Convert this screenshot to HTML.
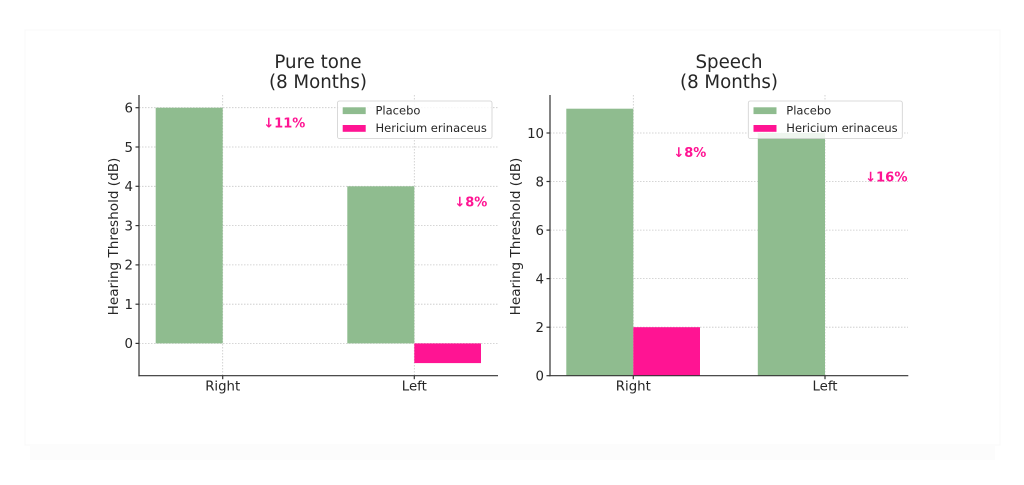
<!DOCTYPE html>
<html><head><meta charset="utf-8"><style>
html,body{margin:0;padding:0;background:#fff;}
svg{display:block;}
text{font-family:"DejaVu Sans","Liberation Sans",sans-serif;fill:#262626;}
</style></head><body>
<svg width="1024" height="485" viewBox="0 0 1024 485" xmlns="http://www.w3.org/2000/svg">
<rect x="0" y="0" width="1024" height="485" fill="#fff"/>
<rect x="30" y="446" width="965" height="14" fill="#fcfcfc"/>
<rect x="25" y="30" width="975" height="415" fill="#fff" stroke="#f8f8f8" stroke-width="1"/>

<!-- LEFT CHART -->
<g>
<text x="318" y="68" font-size="18.2" text-anchor="middle">Pure tone</text>
<text x="318" y="88" font-size="18.2" text-anchor="middle">(8 Months)</text>
<!-- grid -->
<g stroke="#c8c8c8" stroke-width="0.8" stroke-dasharray="1.5,1.5" fill="none">
<line x1="139" y1="107.7" x2="498" y2="107.7"/>
<line x1="139" y1="147" x2="498" y2="147"/>
<line x1="139" y1="186.3" x2="498" y2="186.3"/>
<line x1="139" y1="225.6" x2="498" y2="225.6"/>
<line x1="139" y1="264.9" x2="498" y2="264.9"/>
<line x1="139" y1="304.2" x2="498" y2="304.2"/>
<line x1="139" y1="343.4" x2="498" y2="343.4"/>
<line x1="222.7" y1="95" x2="222.7" y2="376"/>
<line x1="414.3" y1="95" x2="414.3" y2="376"/>
</g>
<!-- bars -->
<rect x="155.7" y="107.7" width="67" height="235.7" fill="#8fbc8f"/>
<rect x="347.3" y="186.3" width="67" height="157.1" fill="#8fbc8f"/>
<rect x="414.3" y="343.4" width="66.7" height="19.7" fill="#ff1493"/>
<!-- spines -->
<g stroke="#333" stroke-width="1.2">
<line x1="139" y1="95" x2="139" y2="376.3"/>
<line x1="138.4" y1="375.7" x2="498" y2="375.7"/>
<line x1="135.5" y1="107.7" x2="139" y2="107.7"/>
<line x1="135.5" y1="147" x2="139" y2="147"/>
<line x1="135.5" y1="186.3" x2="139" y2="186.3"/>
<line x1="135.5" y1="225.6" x2="139" y2="225.6"/>
<line x1="135.5" y1="264.9" x2="139" y2="264.9"/>
<line x1="135.5" y1="304.2" x2="139" y2="304.2"/>
<line x1="135.5" y1="343.4" x2="139" y2="343.4"/>
<line x1="222.7" y1="375.7" x2="222.7" y2="379.2"/>
<line x1="414.3" y1="375.7" x2="414.3" y2="379.2"/>
</g>
<g font-size="13.3" text-anchor="end">
<text x="133" y="112.5">6</text>
<text x="133" y="151.8">5</text>
<text x="133" y="191.1">4</text>
<text x="133" y="230.4">3</text>
<text x="133" y="269.7">2</text>
<text x="133" y="309">1</text>
<text x="133" y="348.2">0</text>
</g>
<g font-size="13.3" text-anchor="middle">
<text x="222.7" y="390.5">Right</text>
<text x="414.3" y="390.5">Left</text>
</g>
<text transform="translate(118,236.5) rotate(-90)" font-size="13.6" text-anchor="middle">Hearing Threshold (dB)</text>
<!-- annotations -->
<text x="263.3" y="127.5" font-size="13.3" font-weight="bold" style="fill:#ff1493" textLength="42" lengthAdjust="spacingAndGlyphs">↓11%</text>
<text x="454.3" y="206.5" font-size="13.3" font-weight="bold" style="fill:#ff1493" textLength="33" lengthAdjust="spacingAndGlyphs">↓8%</text>
<!-- legend -->
<rect x="337.5" y="101" width="154.5" height="37.5" rx="2" fill="#fff" fill-opacity="0.85" stroke="#d0d0d0" stroke-width="0.8"/>
<rect x="342.7" y="107.3" width="23" height="6.8" fill="#8fbc8f"/>
<rect x="342.7" y="125" width="23" height="6.8" fill="#ff1493"/>
<text x="375.5" y="114.5" font-size="11.5">Placebo</text>
<text x="375.5" y="131.8" font-size="11.5">Hericium erinaceus</text>
</g>

<!-- RIGHT CHART -->
<g>
<text x="729" y="68" font-size="18.2" text-anchor="middle">Speech</text>
<text x="729" y="88" font-size="18.2" text-anchor="middle">(8 Months)</text>
<g stroke="#c8c8c8" stroke-width="0.8" stroke-dasharray="1.5,1.5" fill="none">
<line x1="550" y1="133" x2="908" y2="133"/>
<line x1="550" y1="181.5" x2="908" y2="181.5"/>
<line x1="550" y1="230.1" x2="908" y2="230.1"/>
<line x1="550" y1="278.6" x2="908" y2="278.6"/>
<line x1="550" y1="327.2" x2="908" y2="327.2"/>
<line x1="633.3" y1="95" x2="633.3" y2="376"/>
<line x1="825" y1="95" x2="825" y2="376"/>
</g>
<rect x="566.3" y="108.7" width="67" height="267" fill="#8fbc8f"/>
<rect x="633.3" y="327.2" width="66.7" height="48.5" fill="#ff1493"/>
<rect x="757.8" y="133" width="67.2" height="242.7" fill="#8fbc8f"/>
<g stroke="#333" stroke-width="1.2">
<line x1="550" y1="95" x2="550" y2="376.3"/>
<line x1="549.4" y1="375.7" x2="908.3" y2="375.7"/>
<line x1="546.5" y1="133" x2="550" y2="133"/>
<line x1="546.5" y1="181.5" x2="550" y2="181.5"/>
<line x1="546.5" y1="230.1" x2="550" y2="230.1"/>
<line x1="546.5" y1="278.6" x2="550" y2="278.6"/>
<line x1="546.5" y1="327.2" x2="550" y2="327.2"/>
<line x1="546.5" y1="375.7" x2="550" y2="375.7"/>
<line x1="633.3" y1="375.7" x2="633.3" y2="379.2"/>
<line x1="825" y1="375.7" x2="825" y2="379.2"/>
</g>
<g font-size="13.3" text-anchor="end">
<text x="544" y="137.8">10</text>
<text x="544" y="186.3">8</text>
<text x="544" y="234.9">6</text>
<text x="544" y="283.4">4</text>
<text x="544" y="332">2</text>
<text x="544" y="380.5">0</text>
</g>
<g font-size="13.3" text-anchor="middle">
<text x="633.3" y="390.5">Right</text>
<text x="825" y="390.5">Left</text>
</g>
<text transform="translate(520,236.5) rotate(-90)" font-size="13.6" text-anchor="middle">Hearing Threshold (dB)</text>
<text x="673.3" y="157" font-size="13.3" font-weight="bold" style="fill:#ff1493" textLength="33" lengthAdjust="spacingAndGlyphs">↓8%</text>
<text x="865" y="181.5" font-size="13.3" font-weight="bold" style="fill:#ff1493" textLength="42.5" lengthAdjust="spacingAndGlyphs">↓16%</text>
<rect x="748.3" y="101" width="154" height="37.5" rx="2" fill="#fff" fill-opacity="0.85" stroke="#d0d0d0" stroke-width="0.8"/>
<rect x="753.5" y="107.3" width="23" height="6.8" fill="#8fbc8f"/>
<rect x="753.5" y="125" width="23" height="6.8" fill="#ff1493"/>
<text x="786.3" y="114.5" font-size="11.5">Placebo</text>
<text x="786.3" y="131.8" font-size="11.5">Hericium erinaceus</text>
</g>
</svg>
</body></html>
